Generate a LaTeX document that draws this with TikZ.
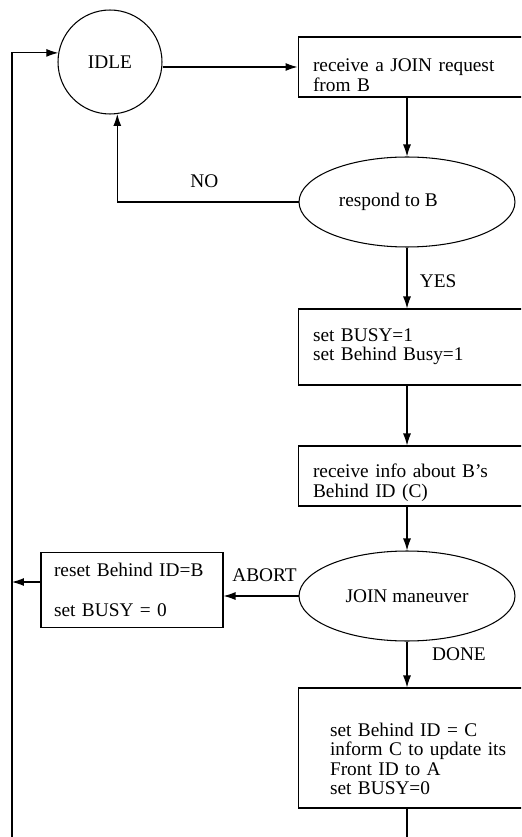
\documentclass[tikz,border=0pt]{standalone}
\usepackage{fontspec}
\setmainfont{Liberation Serif}
\usetikzlibrary{shapes.geometric,arrows.meta,positioning}

% invisible strut to push box text down
\newcommand{\padtop}[1]{\rule{0pt}{#1}}

\tikzset{
  every node/.style={font=\fontsize{11}{11}\selectfont},
  line/.style={line width=0.6pt},
  arr/.style={line, -{Latex[length=2.4mm,width=1.6mm]}},
  state/.style={circle, draw, line width=0.6pt, minimum size=2.08cm, inner sep=0pt},
  test/.style={ellipse, draw, line width=0.6pt, minimum width=4.32cm, minimum height=1.8cm, inner sep=0pt},
  box/.style={rectangle, draw, line width=0.6pt, text width=4.4cm, align=left,
              inner xsep=0.3cm, inner ysep=0pt},
  lbl/.style={inner sep=2pt}
}

\begin{document}
\begin{tikzpicture}[x=0.02cm,y=-0.02cm]
  \useasboundingbox (0,0) rectangle (521,837);
  \clip (0,0) rectangle (521,837);

  % states and tests
  \node[state] (idle) at (110,62) {IDLE};
  \node[box, minimum height=1.2cm] (recv) at (423,67) {\padtop{16.5pt}receive a JOIN request\\from B};
  \node[test] (resp) at (407,202) {\hspace*{-0.75cm}respond to B};
  \node[box, minimum height=1.52cm] (busy) at (423,347) {set BUSY=1\\set Behind Busy=1};
  \node[box, minimum height=1.2cm] (info) at (423,476) {\padtop{15.5pt}receive info about B's\\Behind ID (C)};
  \node[test] (join) at (407,596) {JOIN maneuver};
  \node[box, text width=3.12cm, inner xsep=0.26cm, minimum height=1.5cm] (reset) at (132,590)
    {reset Behind ID=B\\[12pt]set BUSY = 0};
  \node[box, text width=3.72cm, inner xsep=0.64cm, minimum height=2.4cm] (done) at (423,748)
    {\padtop{20pt}set Behind ID = C\\inform C to update its\\Front ID to A\\set BUSY=0};

  \coordinate (top) at (12,52);
  \coordinate (bot) at (12,860);
  \coordinate (out) at (407,860);

  % connectors
  \draw[arr] (idle.east |- recv.west) -- (recv.west);
  \draw[arr] (recv.south -| resp) -- (resp.north);
  \draw[arr] (resp.west) -| (idle.-82)
    node[lbl, pos=0.26, above=6pt] (no) {NO};
  \draw[arr] (resp.south) -- (busy.north -| resp)
    node[lbl, pos=0.55, right=5pt] (yes) {YES};
  \draw[arr] (busy.south -| resp) -- (info.north -| resp);
  \draw[arr] (info.south -| join) -- (join.north);
  \draw[arr] (join.west) -- (join.west -| reset.east)
    node[lbl, midway, above=6pt, xshift=2pt] (abort) {ABORT};
  \draw[arr] (join.south) -- (done.north -| join)
    node[lbl, pos=0.27, right=12pt] (fin) {DONE};
  \draw[line] (done.south -| out) -- (out);

  % back to IDLE
  \draw[arr] ([yshift=0.16cm]reset.west) -- ([yshift=0.16cm]reset.west -| top);
  \draw[arr] (bot) |- (idle.170);
\end{tikzpicture}
\end{document}
